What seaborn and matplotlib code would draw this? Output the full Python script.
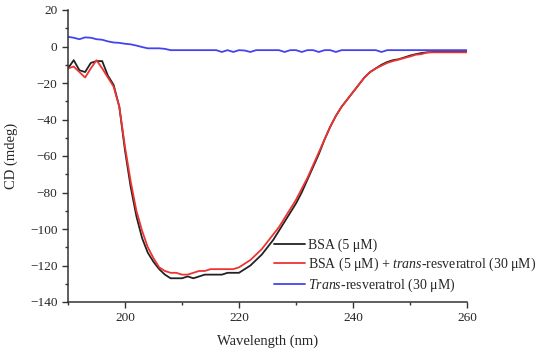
import numpy as np
import pandas as pd
import matplotlib
matplotlib.use('Agg')
import matplotlib.pyplot as plt
from matplotlib.ticker import MultipleLocator
import seaborn as sns

# wavelength grid (nm)
wavelength = list(range(190, 261))

bsa = [-12, -7.5, -13, -14, -9, -8, -8, -16, -21, -33,
       -57, -77, -93, -105, -113, -118, -122, -125, -127, -127,
       -127, -126, -127, -126, -125, -125, -125, -125, -124, -124,
       -124, -122, -120, -117, -114, -110, -106, -101, -96, -91,
       -86, -80, -73, -66, -59, -51, -44, -38, -33, -29,
       -25, -21, -17, -14, -12, -10, -8.5, -7.5, -7, -6,
       -5, -4.2, -3.6, -3.2, -3, -3, -3, -3, -3, -3,
       -3]

bsa_res = [-12, -11, -14, -17, -12, -7.5, -12, -17, -22, -33,
           -55, -74, -90, -101, -110, -116, -121, -123, -124, -124,
           -125, -125, -124, -123, -123, -122, -122, -122, -122, -122,
           -121, -119, -117, -114, -111, -107, -103, -99, -94, -89,
           -84, -78, -72, -65, -58, -51, -44, -38, -33, -29,
           -25, -21, -17, -14, -12, -10.5, -9, -8, -7.2, -6.3,
           -5.5, -4.5, -4.2, -3.3, -3.2, -3.2, -3.2, -3.2, -3.2, -3.2,
           -3.2]

res = [5.3, 4.8, 4.0, 5.0, 4.8, 4.0, 3.7, 2.8, 2.2, 2.0,
       1.5, 1.2, 0.5, -0.3, -1.0, -1.0, -1.0, -1.3, -2.0, -2.0,
       -2.0, -2.0, -2.0, -2.0, -2.0, -2.0, -2.0, -3.0, -2.0, -3.0,
       -2.0, -2.2, -3.0, -2.0, -2.0, -2.0, -2.0, -2.0, -3.0, -2.0,
       -2.0, -3.0, -2.0, -2.0, -3.0, -2.0, -2.0, -3.0, -2.0, -2.0,
       -2.0, -2.0, -2.0, -2.0, -2.0, -3.0, -2.0, -2.0, -2.0, -2.0,
       -2.0, -2.0, -2.0, -2.0, -2.0, -2.0, -2.0, -2.0, -2.0, -2.0,
       -2.0]

labels = ['BSA (5 μM)',
          'BSA (5 μM) + $\\mathit{trans}$-resveratrol (30 μM)',
          '$\\mathit{Trans}$-resveratrol (30 μM)']
colors = ['#222222', '#ee3333', '#4444ee']

df = pd.DataFrame({
    'Wavelength': wavelength * 3,
    'CD': bsa + bsa_res + res,
    'Sample': [labels[0]] * len(bsa) + [labels[1]] * len(bsa_res) + [labels[2]] * len(res),
})

sns.set_style('ticks')
plt.rcParams['font.family'] = ['Liberation Serif', 'DejaVu Serif']
plt.rcParams['mathtext.fontset'] = 'custom'
plt.rcParams['mathtext.rm'] = 'Liberation Serif'
plt.rcParams['mathtext.it'] = 'Liberation Serif:italic'

fig = plt.figure(figsize=(5.5, 3.53), dpi=100)
ax = fig.add_axes([68 / 550, 1 - 302 / 353, (467 - 68) / 550, (302 - 10) / 353])

sns.lineplot(data=df, x='Wavelength', y='CD', hue='Sample', hue_order=labels,
             palette=colors, linewidth=1.3, ax=ax)

ax.set_xlim(190, 260)
ax.set_ylim(-140, 20)
ax.set_xticks([200, 220, 240, 260])
ax.xaxis.set_minor_locator(MultipleLocator(10))
ax.yaxis.set_major_locator(MultipleLocator(20))
ax.yaxis.set_minor_locator(MultipleLocator(10))
ax.tick_params(which='major', direction='out', length=4, width=1, labelsize=9.5, color='#333333')
ax.tick_params(which='minor', direction='out', length=2.5, width=1, color='#333333')
for s in ['top', 'right']:
    ax.spines[s].set_visible(False)
for s in ['left', 'bottom']:
    ax.spines[s].set_linewidth(1.1)
    ax.spines[s].set_color('#333333')

ax.set_xlabel('Wavelength (nm)', fontsize=10.5)
ax.set_ylabel('CD (mdeg)', fontsize=10.5)
ax.yaxis.set_label_coords(-0.125, 0.5)
ax.xaxis.set_label_coords(0.5, -0.11)

leg = ax.legend(loc='upper left', bbox_to_anchor=(0.5, 0.24), frameon=False, borderpad=0,
                fontsize=10, handlelength=2.2, handletextpad=0.25, labelspacing=0.25)

fig.savefig('out.png', dpi=100)
